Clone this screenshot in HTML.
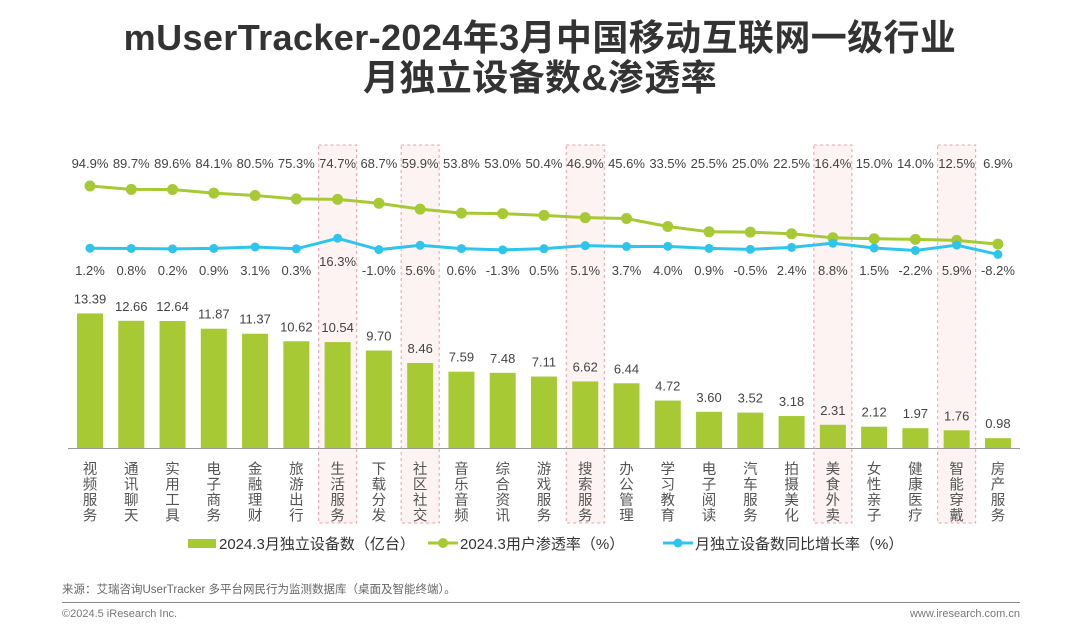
<!DOCTYPE html>
<html><head><meta charset="utf-8">
<style>
body{margin:0;background:#fff;}
#wrap{position:relative;width:1080px;height:635px;overflow:hidden;font-family:"Liberation Sans","Noto Sans CJK SC",sans-serif;}
.title{position:absolute;left:0;width:1080px;text-align:center;font-weight:bold;font-size:36px;color:#333;letter-spacing:0.4px;line-height:44px;}
</style></head><body>
<div id="wrap">
<div class="title" style="top:16px">mUserTracker-2024年3月中国移动互联网一级行业</div>
<div class="title" style="top:56px">月独立设备数&amp;渗透率</div>
<svg id="chart" width="1080" height="635" style="position:absolute;left:0;top:0"></svg>
</div>
<script>
const categories=["视频服务","通讯聊天","实用工具","电子商务","金融理财","旅游出行","生活服务","下载分发","社区社交","音乐音频","综合资讯","游戏服务","搜索服务","办公管理","学习教育","电子阅读","汽车服务","拍摄美化","美食外卖","女性亲子","健康医疗","智能穿戴","房产服务"];
const devices=[13.39,12.66,12.64,11.87,11.37,10.62,10.54,9.70,8.46,7.59,7.48,7.11,6.62,6.44,4.72,3.60,3.52,3.18,2.31,2.12,1.97,1.76,0.98];
const penetration=[94.9,89.7,89.6,84.1,80.5,75.3,74.7,68.7,59.9,53.8,53.0,50.4,46.9,45.6,33.5,25.5,25.0,22.5,16.4,15.0,14.0,12.5,6.9];
const growth=[1.2,0.8,0.2,0.9,3.1,0.3,16.3,-1.0,5.6,0.6,-1.3,0.5,5.1,3.7,4.0,0.9,-0.5,2.4,8.8,1.5,-2.2,5.9,-8.2];
const highlighted=["生活服务","社区社交","搜索服务","美食外卖","智能穿戴"];

const svg=document.getElementById('chart');
const NS='http://www.w3.org/2000/svg';
function mk(tag,attrs){const e=document.createElementNS(NS,tag);for(const k in attrs)e.setAttribute(k,attrs[k]);svg.appendChild(e);return e;}
const xC=i=>90+i*41.27;
const yBar=v=>448-v*10.05;
const yPen=v=>186+(94.9-v)*0.66;
const yGr=v=>249-v*0.66;
const GREEN='#a7c934',BLUE='#2ec5ec';

categories.forEach((c,i)=>{
  if(highlighted.includes(c)){
    const r=mk('rect',{x:xC(i)-19,y:145,width:38,height:378,fill:'#fdf3f3',stroke:'#e8a0a8','stroke-width':1,'stroke-dasharray':'3,3'});
    
    
  }
});
const ax=mk('line',{x1:68,x2:1020,y1:448.5,y2:448.5,stroke:'#999','stroke-width':1});



devices.forEach((v,i)=>{
  const b=mk('rect',{x:xC(i)-13,y:yBar(v),width:26,height:448-yBar(v),fill:GREEN});
  
  
  const t=mk('text',{x:xC(i),y:yBar(v)-10,'text-anchor':'middle','font-size':13,fill:'#444'});
  t.textContent=v.toFixed(2);
  
  
});
categories.forEach((c,i)=>{
  for(let k=0;k<c.length;k++){
    const t=mk('text',{x:xC(i),y:474+k*15.5,'text-anchor':'middle','font-size':14.5,fill:'#555'});
    t.textContent=c[k];
    
    
  }
});
function line(vals,yf,color,name){
  const p=mk('polyline',{points:vals.map((v,i)=>xC(i)+','+yf(v)).join(' '),fill:'none',stroke:color,'stroke-width':3});
  
  
  vals.forEach((v,i)=>{
    const c=mk('circle',{cx:xC(i),cy:yf(v),r:name==='penetration'?5.5:4.5,fill:color});
    
    
  });
}
line(penetration,yPen,GREEN,'penetration');
line(growth,yGr,BLUE,'growth');
penetration.forEach((v,i)=>{
  const t=mk('text',{x:xC(i),y:168,'text-anchor':'middle','font-size':13,fill:'#444'});
  t.textContent=v.toFixed(1)+'%';
  
  
});
growth.forEach((v,i)=>{
  const t=mk('text',{x:xC(i),y:v>10?266:275,'text-anchor':'middle','font-size':13,fill:'#444'});
  t.textContent=v.toFixed(1)+'%';
  
  
});
// legend
const l1=mk('rect',{x:188,y:539,width:28,height:9,fill:GREEN});


const lt1=mk('text',{x:219,y:549,'font-size':15,fill:'#333'});lt1.textContent='2024.3月独立设备数（亿台）';


const l2=mk('line',{x1:428,x2:458,y1:543,y2:543,stroke:GREEN,'stroke-width':3});


const l2c=mk('circle',{cx:443,cy:543,r:5,fill:GREEN});


const lt2=mk('text',{x:460,y:549,'font-size':15,fill:'#333'});lt2.textContent='2024.3用户渗透率（%）';


const l3=mk('line',{x1:663,x2:693,y1:543,y2:543,stroke:BLUE,'stroke-width':3});


const l3c=mk('circle',{cx:678,cy:543,r:4.5,fill:BLUE});


const lt3=mk('text',{x:695,y:549,'font-size':15,fill:'#333'});lt3.textContent='月独立设备数同比增长率（%）';


// footer
const src=mk('text',{x:62,y:593,'font-size':11.5,fill:'#666'});src.textContent='来源：艾瑞咨询UserTracker 多平台网民行为监测数据库（桌面及智能终端）。';


const hr=mk('line',{x1:62,x2:1020,y1:602.5,y2:602.5,stroke:'#888','stroke-width':1});


const cp=mk('text',{x:62,y:617,'font-size':11,fill:'#777'});cp.textContent='©2024.5 iResearch Inc.';


const ws=mk('text',{x:1020,y:617,'font-size':11,fill:'#777','text-anchor':'end'});ws.textContent='www.iresearch.com.cn';


</script>
</body></html>
